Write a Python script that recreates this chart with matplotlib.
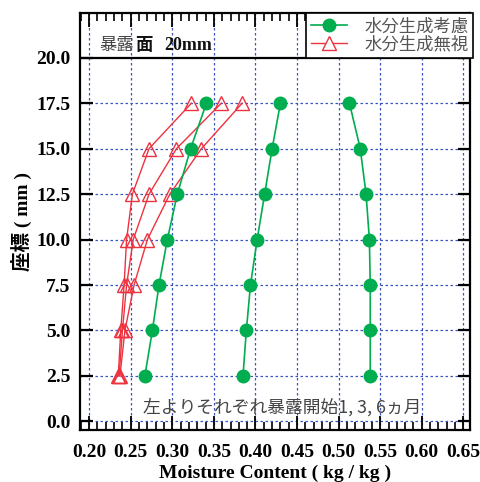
import matplotlib
matplotlib.use("Agg")
import matplotlib.pyplot as plt
from matplotlib.ticker import MultipleLocator, FormatStrFormatter

# Depth coordinate (mm) and moisture profiles after 1, 3, 6 months of exposure
depth = [2.5, 5.0, 7.5, 10.0, 12.5, 15.0, 17.5]

with_gen_1m = [0.267, 0.276, 0.284, 0.294, 0.306, 0.322, 0.341]
with_gen_3m = [0.385, 0.389, 0.394, 0.402, 0.411, 0.420, 0.430]
with_gen_6m = [0.538, 0.538, 0.538, 0.537, 0.533, 0.526, 0.513]

no_gen_1m = [0.235, 0.238, 0.242, 0.245, 0.252, 0.272, 0.323]
no_gen_3m = [0.236, 0.240, 0.245, 0.253, 0.272, 0.305, 0.359]
no_gen_6m = [0.237, 0.243, 0.254, 0.270, 0.297, 0.335, 0.384]

label_with = "水分生成考慮"
label_without = "水分生成無視"

serif = ["Liberation Serif", "Noto Sans CJK JP"]
cjk = ["Noto Sans CJK JP", "DejaVu Sans"]

green = "#00ad4f"
red = "#ee3340"
grid_blue = "#3a55c0"

fig = plt.figure(figsize=(4.8, 4.82), dpi=100)
ax = fig.add_axes([0.1667, 0.108, 0.8125, 0.865])

ax.set_xlim(0.189, 0.658)
ax.set_ylim(-0.47, 22.46)

# dotted grid: vertical lines span full height, horizontal only up to 20
for xv in [0.20 + 0.05 * i for i in range(10)]:
    ax.axvline(xv, color=grid_blue, lw=0.9, ls=(0, (2, 2)), zorder=1)
for yv in [2.5 * i for i in range(8)]:
    ax.axhline(yv, color=grid_blue, lw=0.9, ls=(0, (2, 2)), zorder=1)
ax.axhline(20.0, color="black", lw=1.6, zorder=3)

for xs in (no_gen_1m, no_gen_3m, no_gen_6m):
    ax.plot(xs, depth, color=red, lw=1.0, marker="^", ms=10.5,
            mfc="none", mec=red, mew=1.0, zorder=4)
for xs in (with_gen_1m, with_gen_3m, with_gen_6m):
    ax.plot(xs, depth, color=green, lw=1.2, marker="o", ms=9,
            mfc=green, mec=green, zorder=5)

# legend proxies
h1, = ax.plot([], [], color=green, lw=1.2, marker="o", ms=9)
h2, = ax.plot([], [], color=red, lw=1.0, marker="^", ms=10.5, mfc="white", mec=red)
leg = ax.legend([h1, h2], [label_with, label_without], loc="upper right",
                bbox_to_anchor=(1.008, 1.0), borderaxespad=0, frameon=True,
                fancybox=False, edgecolor="black", framealpha=1,
                prop={"family": cjk, "size": 12.5}, handlelength=2.1,
                handletextpad=1.0, labelspacing=0.0, borderpad=0.26)
leg.get_frame().set_linewidth(1.2)
for t in leg.get_texts():
    t.set_color("#555555")

# ticks
ax.xaxis.set_major_locator(MultipleLocator(0.05))
ax.xaxis.set_minor_locator(MultipleLocator(0.01))
ax.xaxis.set_major_formatter(FormatStrFormatter("%.2f"))
ax.set_yticks([2.5 * i for i in range(9)])
ax.yaxis.set_major_formatter(FormatStrFormatter("%.1f"))
ax.tick_params(axis="x", which="major", direction="in", length=10, width=1.3,
               top=True, bottom=True, pad=10)
ax.tick_params(axis="x", which="minor", direction="in", length=5.5, width=1.2,
               top=True, bottom=True)
ax.tick_params(axis="y", which="major", direction="in", length=9, width=1.6,
               left=True, right=True, pad=7)
for lab in ax.get_xticklabels() + ax.get_yticklabels():
    lab.set_family(serif)
    lab.set_fontweight("bold")
    lab.set_fontsize(14)

for sp in ax.spines.values():
    sp.set_linewidth(1.6)

ax.set_xlabel("Moisture Content ( kg / kg )", family=serif, fontweight="bold",
              fontsize=14, labelpad=2.5)
ax.set_ylabel("座標 ( mm )", family=serif, fontweight="bold", fontsize=14,
              labelpad=3)

# annotations in the panel
ax.text(0.2128, 20.72, "暴露", family=cjk, fontsize=12.5, color="#444444",
        va="center", ha="left", zorder=6)
ax.text(0.2555, 20.72, "面", family=cjk, fontsize=12.5, fontweight="bold",
        color="#111111", va="center", ha="left", zorder=6)
ax.text(0.2905, 20.68, "20mm", family=serif, fontsize=13, fontweight="bold",
        color="#111111", va="center", ha="left", zorder=6)
ax.text(0.4323, 0.78, "左よりそれぞれ暴露開始1, 3, 6ヵ月", family=cjk,
        fontsize=12.8, color="#444444", va="center", ha="center", zorder=6)

fig.savefig("out.png", dpi=100)
